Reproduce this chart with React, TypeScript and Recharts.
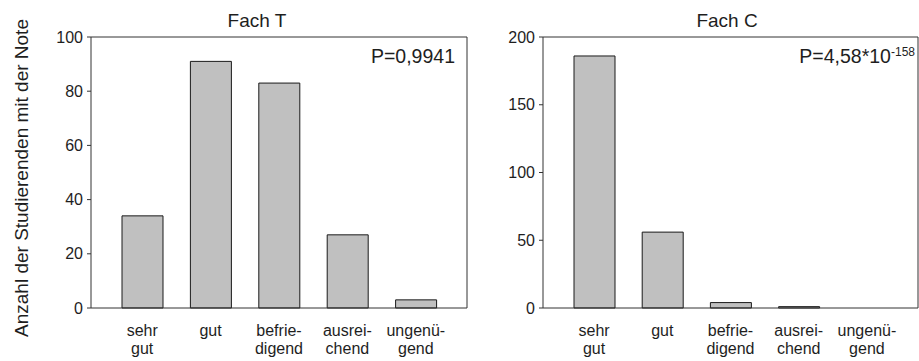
import React from 'react';
import { BarChart, Bar, XAxis, YAxis } from 'recharts';

const categories = ['sehr gut', 'gut', 'befriedigend', 'ausreichend', 'ungenügend'];
const tickLines: string[][] = [['sehr', 'gut'], ['gut'], ['befrie-', 'digend'], ['ausrei-', 'chend'], ['ungenü-', 'gend']];
const fachT = [34, 91, 83, 27, 3];
const fachC = [186, 56, 4, 1, 0];
const ticksT = [0, 20, 40, 60, 80, 100];
const ticksC = [0, 50, 100, 150, 200];
const titles = ['Fach T', 'Fach C'];
const yLabel = 'Anzahl der Studierenden mit der Note';

const dataT = categories.map((c, i) => ({ name: c, value: fachT[i] }));
const dataC = categories.map((c, i) => ({ name: c, value: fachC[i] }));

const FONT = '"Liberation Sans", Arial, sans-serif';
const TEXT = '#1e1e1e';
const LINE = '#333';

const CatTick = (props: any) => {
  const { x, y, payload } = props;
  const lines = tickLines[payload.index] || [String(payload.value)];
  return (
    <text x={x} y={y + 27.5} textAnchor="middle" fontSize={16} fontFamily={FONT} fill={TEXT}>
      {lines.map((l, i) => (
        <tspan key={i} x={x} dy={i === 0 ? 0 : 18.5}>{l}</tspan>
      ))}
    </text>
  );
};

const Panel = ({ data, ticks, max, width, yWidth, marginRight, title, titleX, pLabel }: any) => (
  <BarChart
    width={width}
    height={361}
    data={data}
    margin={{ top: 36, right: marginRight, bottom: 0, left: 0 }}
    style={{ fontFamily: FONT }}
  >
    <XAxis
      dataKey="name"
      xAxisId={0}
      padding={{ left: 17, right: 17 }}
      tickLine={false}
      tickSize={0}
      tickMargin={0}
      axisLine={{ stroke: LINE, strokeWidth: 1 }}
      tick={<CatTick />}
      interval={0}
      height={53}
    />
    <XAxis xAxisId="top" orientation="top" dataKey="name" height={1} tick={false} tickLine={false} axisLine={{ stroke: LINE }} />
    <YAxis
      yAxisId={0}
      domain={[0, max]}
      ticks={ticks}
      width={yWidth}
      tickSize={4}
      tickMargin={4}
      tickLine={{ stroke: LINE }}
      axisLine={{ stroke: LINE }}
      tick={{ fontSize: 16, fill: TEXT, fontFamily: FONT }}
      interval={0}
    />
    <YAxis yAxisId="right" orientation="right" width={1} tick={false} tickLine={false} axisLine={{ stroke: LINE }} domain={[0, max]} />
    <Bar dataKey="value" xAxisId={0} yAxisId={0} fill="#c0c0c0" stroke="#1a1a1a" strokeWidth={1} barSize={41} isAnimationActive={false} />
    <text x={titleX} y={27} textAnchor="middle" fontSize={19} fontFamily={FONT} fill={TEXT}>{title}</text>
    {pLabel}
  </BarChart>
);

export default function App() {
  return (
    <div style={{ position: 'absolute', left: 0, top: 0, width: 919, height: 361, background: '#fff' }}>
      <div style={{ position: 'absolute', left: 0, top: 0 }}>
        <Panel
          data={dataT}
          ticks={ticksT}
          max={100}
          width={470}
          yWidth={91}
          marginRight={2}
          title={titles[0]}
          titleX={257}
          pLabel={
            <>
              <text x={455} y={63} textAnchor="end" fontSize={19.5} fontFamily={FONT} fill={TEXT}>P=0,9941</text>
              <text x={28} y={178} transform="rotate(-90 28 178)" textAnchor="middle" fontSize={19} fontFamily={FONT} fill={TEXT}>{yLabel}</text>
            </>
          }
        />
      </div>
      <div style={{ position: 'absolute', left: 470, top: 0 }}>
        <Panel
          data={dataC}
          ticks={ticksC}
          max={200}
          width={449}
          yWidth={73}
          marginRight={0}
          title={titles[1]}
          titleX={257}
          pLabel={
            <text x={445} y={63} textAnchor="end" fontSize={19.5} fontFamily={FONT} fill={TEXT}>
              P=4,58*10<tspan fontSize={12} dy={-7}>-158</tspan>
            </text>
          }
        />
      </div>
    </div>
  );
}
